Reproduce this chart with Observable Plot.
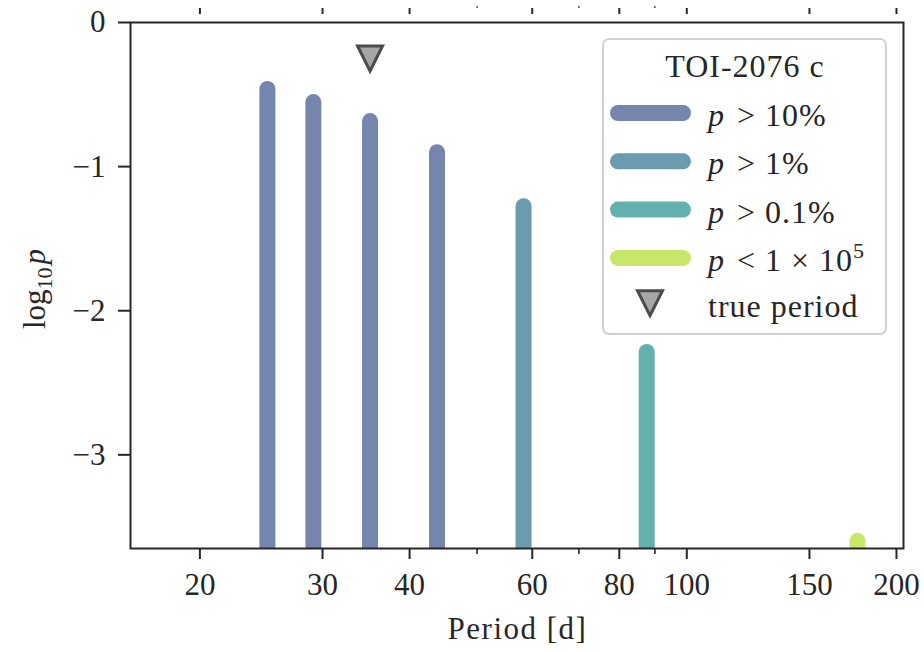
<!DOCTYPE html>
<html>
<head>
<meta charset="utf-8">
<script src="https://cdn.jsdelivr.net/npm/d3@7"></script>
<script src="https://cdn.jsdelivr.net/npm/@observablehq/plot@0.6"></script>
<style>
  html, body { margin: 0; padding: 0; background: #fff; }
  #chart { position: relative; width: 924px; height: 652px; }
</style>
</head>
<body>
<div id="chart"></div>
<script>
// Candidate periods for TOI-2076 c and their log10 probabilities
const periods = [25.0, 29.1, 35.1, 43.8, 58.3, 87.6, 175.8];
const logP = [-0.465, -0.556, -0.6875, -0.903, -1.278, -2.29, -3.60];
const level = [0, 0, 0, 0, 1, 2, 3];

// Probability classes
const levelColors = ["#7585AD", "#6A9BAE", "#63B1AE", "#C8E66A"];
const levelLabels = [
  ["p", " > 10%"],
  ["p", " > 1%"],
  ["p", " > 0.1%"],
  ["p", " < 1 × 10", "5"]
];

// True period marker
const truePeriod = [35.1];
const trueMarkerLogP = [-0.25];

// Axis ticks
const xMajorTicks = [20, 30, 40, 60, 80, 100, 150, 200];
const xMinorTicks = [50, 70, 90];
const yTicks = [0, -1, -2, -3];
const logPFloor = -4; // bars run down past the bottom of the frame

const ink = "#262626";
const serif = '"Liberation Serif", "DejaVu Serif", serif';

const rows = periods.map((p, i) => ({period: p, logp: logP[i], level: level[i]}));
const trueRows = truePeriod.map((p, i) => ({period: p, logp: trueMarkerLogP[i]}));

// Downward-pointing triangle (same width as height)
const triangleDown = {
  draw(context, size) {
    const r = Math.sqrt(size / Math.PI);
    context.moveTo(0, r);
    context.lineTo(-r, -r);
    context.lineTo(r, -r);
    context.closePath();
  }
};

const intMinus = d => (d < 0 ? "\u2212" : "") + Math.abs(d);

const chart = Plot.plot({
  width: 924,
  height: 652,
  marginLeft: 130,
  marginRight: 21,
  marginTop: 22,
  marginBottom: 104,
  style: {fontFamily: serif, fontSize: "31px", color: ink, background: "#fff", overflow: "visible"},
  x: {type: "log", domain: [15.9, 204.7]},
  y: {domain: [-3.65, 0]},
  color: {type: "identity"},
  marks: [
    Plot.ruleX(rows, {
      x: "period", y1: logPFloor, y2: "logp",
      stroke: d => levelColors[d.level],
      strokeWidth: 16, strokeLinecap: "round", clip: true
    }),
    Plot.dot(trueRows, {
      x: "period", y: "logp", symbol: triangleDown, r: 12.5,
      fill: "#a6a6a6", stroke: "#4c4c4c", strokeWidth: 3
    }),
    Plot.frame({stroke: ink, strokeWidth: 2}),
    Plot.axisX(xMajorTicks, {anchor: "bottom", tickSize: 11, tickPadding: 13, strokeWidth: 2, tickFormat: d => String(d), label: null}),
    Plot.axisX(xMinorTicks, {anchor: "bottom", tickSize: 6, strokeWidth: 1.6, tickFormat: () => "", label: null}),
    Plot.axisX(xMajorTicks, {anchor: "top", tickSize: 6, dy: -9, strokeWidth: 2, tickFormat: () => "", label: null}),
    Plot.axisX(xMinorTicks, {anchor: "top", tickSize: 2, dy: -15, strokeWidth: 1.2, tickFormat: () => "", label: null}),
    Plot.axisY(yTicks, {anchor: "left", tickSize: 12, tickPadding: 13, strokeWidth: 2, tickFormat: intMinus, label: null})
  ]
});

document.getElementById("chart").appendChild(chart);

const svg = d3.select(chart);
const frameLeft = 130, frameRight = 924 - 21, frameTop = 22, frameBottom = 652 - 104;

// x-axis title
svg.append("text")
  .attr("x", (frameLeft + frameRight) / 2 + 1)
  .attr("y", 639)
  .attr("text-anchor", "middle")
  .attr("font-family", serif)
  .attr("font-size", 31)
  .attr("letter-spacing", 1.5)
  .attr("fill", ink)
  .text("Period [d]");

// y-axis title: log10 p
const yTitle = svg.append("text")
  .attr("transform", `translate(45, ${(frameTop + frameBottom) / 2 + 4}) rotate(-90)`)
  .attr("text-anchor", "middle")
  .attr("font-family", serif)
  .attr("font-size", 31)
  .attr("fill", ink);
yTitle.append("tspan").text("log");
yTitle.append("tspan").attr("font-size", 22).attr("dy", 7).text("10");
yTitle.append("tspan").attr("font-style", "italic").attr("dy", -7).attr("dx", 3).text("p");

// Legend
const lg = svg.append("g")
  .attr("font-family", serif).attr("font-size", 32).attr("fill", ink)
  .attr("text-anchor", "start");
lg.append("rect")
  .attr("x", 603).attr("y", 39).attr("width", 283).attr("height", 295).attr("rx", 6)
  .attr("fill", "#fff").attr("fill-opacity", 0.85)
  .attr("stroke", "#d0d0d0").attr("stroke-width", 2);
lg.append("text").attr("x", 745).attr("y", 77).attr("text-anchor", "middle")
  .attr("letter-spacing", 1).text("TOI-2076 c");

const rowY0 = 113, rowStep = 48.3;
levelColors.forEach((c, i) => {
  const cy = rowY0 + i * rowStep;
  lg.append("line")
    .attr("x1", 618).attr("x2", 683).attr("y1", cy).attr("y2", cy)
    .attr("stroke", c).attr("stroke-width", 16).attr("stroke-linecap", "round");
  const t = lg.append("text").attr("x", 708).attr("y", cy + 13).attr("text-anchor", "start");
  const parts = levelLabels[i];
  t.append("tspan").attr("font-style", "italic").text(parts[0]);
  t.append("tspan").attr("dx", 4).attr("letter-spacing", 1).text(parts[1]);
  if (parts[2]) t.append("tspan").attr("font-size", 22).attr("dy", -13).text(parts[2]);
});

const trueY = rowY0 + 4 * rowStep - 3;
lg.append("path")
  .attr("transform", `translate(650, ${trueY})`)
  .attr("d", "M0,12.5L-12.5,-12.5L12.5,-12.5Z")
  .attr("fill", "#a6a6a6").attr("stroke", "#4c4c4c").attr("stroke-width", 3);
lg.append("text").attr("x", 708).attr("y", trueY + 14).attr("text-anchor", "start")
  .attr("letter-spacing", 1).text("true period");
</script>
</body>
</html>
